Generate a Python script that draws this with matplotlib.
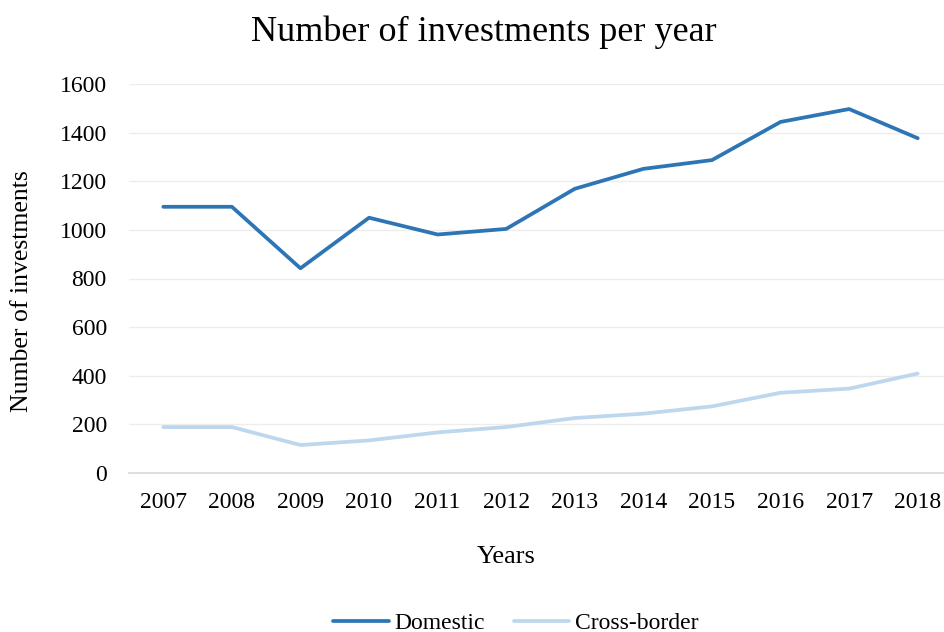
import matplotlib
matplotlib.use("Agg")
import matplotlib.pyplot as plt

years = ["2007", "2008", "2009", "2010", "2011", "2012",
         "2013", "2014", "2015", "2016", "2017", "2018"]
domestic = [1095, 1095, 842, 1050, 981, 1004, 1169, 1251, 1287, 1444, 1497, 1377]
cross_border = [189, 189, 115, 134, 167, 189, 226, 244, 274, 330, 347, 409]
y_ticks = [0, 200, 400, 600, 800, 1000, 1200, 1400, 1600]

plt.rcParams["font.family"] = ["Liberation Serif", "DejaVu Serif"]

fig = plt.figure(figsize=(9.44, 6.32), dpi=100)
# axes box in pixels: left 129, right 952, top 84, bottom 473
W, H = 944, 632
ax = fig.add_axes([129 / W, 1 - 473 / H, (952 - 129) / W, (473 - 84) / H])

x = list(range(len(years)))
ax.plot(x, domestic, color="#2E75B6", lw=2.7, solid_capstyle="round",
        label="Domestic", zorder=3)
ax.plot(x, cross_border, color="#BDD7EE", lw=2.7, solid_capstyle="round",
        label="Cross-border", zorder=3)

ax.set_xlim(-0.5, len(years) - 0.5)
ax.set_ylim(0, 1600)
ax.set_yticks(y_ticks)
ax.set_yticklabels([str(v) for v in y_ticks])
ax.set_xticks(x)
ax.set_xticklabels(years)

ax.grid(axis="y", color="#EDEDED", lw=1.0, zorder=0)
for side in ["left", "right", "top"]:
    ax.spines[side].set_visible(False)
ax.spines["bottom"].set_color("#D9D9D9")
ax.spines["bottom"].set_linewidth(1.2)
ax.tick_params(axis="both", length=0, labelsize=17, colors="#000000")
ax.tick_params(axis="y", pad=16)
ax.tick_params(axis="x", pad=14)

fig.text(484 / W, 1 - 32 / H, "Number of investments per year",
         ha="center", va="center", fontsize=26)
fig.text(22 / W, 1 - 291 / H, "Number of investments", rotation=90,
         ha="center", va="center", fontsize=18.5)
fig.text(506 / W, 1 - 557 / H, "Years", ha="center", va="center", fontsize=19)

fig.legend(loc="center", bbox_to_anchor=(516 / W, 1 - 623 / H), ncol=2,
           frameon=False, fontsize=17, handlelength=2.35, handletextpad=0.25,
           columnspacing=1.2)

fig.savefig("out.png", dpi=100, facecolor="white")
